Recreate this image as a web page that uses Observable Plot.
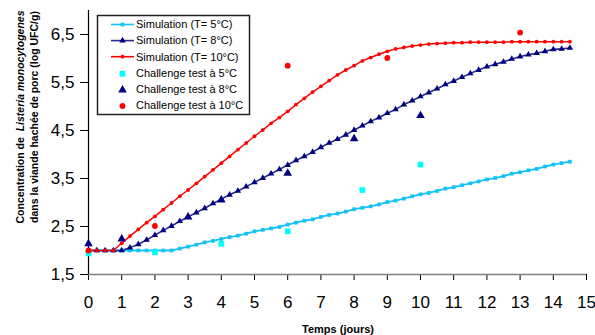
<!DOCTYPE html>
<html>
<head>
<meta charset="utf-8">
<script src="https://cdn.jsdelivr.net/npm/d3@7"></script>
<script src="https://cdn.jsdelivr.net/npm/@observablehq/plot@0.6"></script>
<style>
  html, body { margin: 0; padding: 0; background: #fff; }
  #chart { width: 595px; height: 335px; }
</style>
</head>
<body>
<div id="chart"></div>
<script>
// ---- data ----
const times = [0, 0.25, 0.5, 0.75, 1, 1.25, 1.5, 1.75, 2, 2.25, 2.5, 2.75, 3, 3.25, 3.5, 3.75,
  4, 4.25, 4.5, 4.75, 5, 5.25, 5.5, 5.75, 6, 6.25, 6.5, 6.75, 7, 7.25, 7.5, 7.75,
  8, 8.25, 8.5, 8.75, 9, 9.25, 9.5, 9.75, 10, 10.25, 10.5, 10.75, 11, 11.25, 11.5, 11.75,
  12, 12.25, 12.5, 12.75, 13, 13.25, 13.5, 13.75, 14, 14.25, 14.5];

const sim5 = [2.00, 2.00, 2.00, 2.00, 2.00, 2.00, 2.00, 2.00, 2.00, 2.00, 2.00, 2.04, 2.08, 2.12, 2.17, 2.20,
  2.24, 2.28, 2.31, 2.35, 2.40, 2.43, 2.46, 2.49, 2.54, 2.58, 2.62, 2.65, 2.70, 2.74, 2.77, 2.81,
  2.86, 2.89, 2.92, 2.96, 3.01, 3.04, 3.08, 3.13, 3.17, 3.20, 3.24, 3.29, 3.32, 3.36, 3.40, 3.44,
  3.48, 3.51, 3.55, 3.60, 3.63, 3.67, 3.70, 3.75, 3.79, 3.82, 3.85];

const sim8 = [2.00, 2.00, 2.00, 2.00, 2.00, 2.06, 2.13, 2.22, 2.32, 2.42, 2.51, 2.61, 2.70, 2.79, 2.88, 2.98,
  3.07, 3.16, 3.24, 3.33, 3.42, 3.51, 3.60, 3.69, 3.78, 3.88, 3.96, 4.05, 4.15, 4.24, 4.32, 4.41,
  4.51, 4.60, 4.69, 4.77, 4.86, 4.94, 5.04, 5.12, 5.21, 5.29, 5.37, 5.46, 5.53, 5.61, 5.69, 5.76,
  5.83, 5.88, 5.93, 5.99, 6.04, 6.08, 6.11, 6.15, 6.19, 6.20, 6.22];

const sim10 = [2.00, 2.00, 2.00, 2.00, 2.15, 2.30, 2.44, 2.58, 2.71, 2.85, 2.99, 3.13, 3.26, 3.40, 3.54, 3.68,
  3.82, 3.96, 4.10, 4.24, 4.38, 4.51, 4.65, 4.77, 4.90, 5.04, 5.17, 5.30, 5.42, 5.54, 5.66, 5.76,
  5.85, 5.95, 6.02, 6.09, 6.15, 6.20, 6.23, 6.26, 6.28, 6.30, 6.31, 6.32, 6.33, 6.33, 6.34, 6.34,
  6.34, 6.34, 6.34, 6.35, 6.35, 6.35, 6.35, 6.35, 6.35, 6.35, 6.35];

const ch5Days = [0, 2, 4, 6, 8.25, 10];
const ch5Vals = [1.94, 1.96, 2.14, 2.40, 3.26, 3.79];
const ch8Days = [0, 1, 3, 4, 6, 8, 10];
const ch8Vals = [2.14, 2.24, 2.70, 3.05, 3.61, 4.33, 4.81];
const ch10Days = [0, 2, 6, 9, 13];
const ch10Vals = [2.00, 2.51, 5.85, 6.01, 6.54];

const xTicks = [0, 1, 2, 3, 4, 5, 6, 7, 8, 9, 10, 11, 12, 13, 14, 15];
const yTicks = [1.5, 2.5, 3.5, 4.5, 5.5, 6.5];

const legendLabels = ["Simulation (T= 5°C)", "Simulation (T= 8°C)", "Simulation (T= 10°C)",
  "Challenge test à 5°C", "Challenge test à 8°C", "Challenge test à 10°C"];
const xTitle = "Temps (jours)";
const yTitle1a = "Concentration de ";
const yTitle1b = "Listeria monocytogenes";
const yTitle2 = "dans la viande hachée de porc (log UFC/g)";

// ---- styles ----
const C5 = "#14c2f7", C5pt = "#00ffff";
const C8 = "#000080", C8line = "#2a2a8c";
const C10 = "#ff0000";

const toRows = (vals) => times.map((t, i) => ({t, v: vals[i]}));
const toPts = (ds, vs) => ds.map((t, i) => ({t, v: vs[i]}));
const s5 = toRows(sim5), s8 = toRows(sim8), s10 = toRows(sim10);
const p5 = toPts(ch5Days, ch5Vals), p8 = toPts(ch8Days, ch8Vals), p10 = toPts(ch10Days, ch10Vals);

const fmt = v => v.toFixed(1).replace(".", ",");

const chart = Plot.plot({
  width: 595,
  height: 335,
  marginLeft: 88,
  marginRight: 9,
  marginTop: 10,
  marginBottom: 61,
  style: {fontFamily: "'Liberation Sans', Arial, sans-serif", background: "#fff", color: "#000"},
  x: {domain: [0, 15]},
  y: {domain: [1.5, 7]},
  marks: [
    Plot.axisX({ticks: xTicks, tickSize: 6, tickPadding: 15, fontSize: 17, tickFormat: d => String(d), label: null, stroke: "#000"}),
    Plot.axisY({ticks: yTicks, tickSize: 8, tickPadding: 6, fontSize: 17, tickFormat: fmt, label: null, stroke: "#000"}),
    Plot.ruleY([1.5], {stroke: "#7f7f7f", strokeWidth: 1.5}),
    Plot.ruleX([0], {stroke: "#000", strokeWidth: 1.2}),
    Plot.line(s5, {x: "t", y: "v", stroke: C5, strokeWidth: 1.8}),
    Plot.line(s8, {x: "t", y: "v", stroke: C8line, strokeWidth: 1.6}),
    Plot.line(s10, {x: "t", y: "v", stroke: C10, strokeWidth: 1.5}),
    Plot.dot(s5, {x: "t", y: "v", symbol: "square", r: 2.1, fill: C5}),
    Plot.dot(s8, {x: "t", y: "v", symbol: "triangle", r: 2.4, fill: C8}),
    Plot.dot(s10, {x: "t", y: "v", symbol: "circle", r: 1.9, fill: C10}),
    Plot.dot(p5, {x: "t", y: "v", symbol: "square", r: 3.2, fill: C5pt}),
    Plot.dot(p8, {x: "t", y: "v", symbol: "triangle", r: 3.2, fill: C8}),
    Plot.dot(p10, {x: "t", y: "v", symbol: "circle", r: 2.9, fill: C10})
  ]
});
document.getElementById("chart").appendChild(chart);

// ---- titles and legend ----
const svg = d3.select(chart);
const ff = "'Liberation Sans', Arial, sans-serif";

svg.append("text")
  .attr("x", 338).attr("y", 333)
  .attr("text-anchor", "middle")
  .attr("font-family", ff).attr("font-size", 11).attr("font-weight", "bold")
  .attr("fill", "#000")
  .text(xTitle);

const yt1 = svg.append("text")
  .attr("transform", "translate(24,117) rotate(-90)")
  .attr("text-anchor", "middle")
  .attr("font-family", ff).attr("font-size", 10.5).attr("font-weight", "bold")
  .attr("fill", "#000")
  .attr("xml:space", "preserve");
yt1.append("tspan").text(yTitle1a + " ");
yt1.append("tspan").attr("font-style", "italic").text(yTitle1b);

svg.append("text")
  .attr("transform", "translate(38,117) rotate(-90)")
  .attr("text-anchor", "middle")
  .attr("font-family", ff).attr("font-size", 10.5).attr("font-weight", "bold")
  .attr("fill", "#000")
  .text(yTitle2);

const lg = svg.append("g");
lg.append("rect")
  .attr("x", 97.5).attr("y", 15.5).attr("width", 152).attr("height", 99)
  .attr("fill", "#fff").attr("stroke", "#222").attr("stroke-width", 1.5);

const entries = [
  {line: C5, fill: C5, sym: d3.symbolSquare, r: 2.1},
  {line: C8line, fill: C8, sym: d3.symbolTriangle, r: 2.4},
  {line: C10, fill: C10, sym: d3.symbolCircle, r: 1.9},
  {line: null, fill: C5pt, sym: d3.symbolSquare, r: 3.2},
  {line: null, fill: C8, sym: d3.symbolTriangle, r: 3.2},
  {line: null, fill: C10, sym: d3.symbolCircle, r: 2.9}
];
entries.forEach((e, i) => {
  const cy = 24.5 + i * 16.1;
  if (e.line) {
    lg.append("line").attr("x1", 111).attr("x2", 134).attr("y1", cy).attr("y2", cy)
      .attr("stroke", e.line).attr("stroke-width", 1.6);
  }
  lg.append("path")
    .attr("d", d3.symbol(e.sym, Math.PI * e.r * e.r)())
    .attr("transform", `translate(122.5,${cy + (e.line ? 0 : 1)})`)
    .attr("fill", e.fill);
  lg.append("text")
    .attr("x", 136).attr("y", cy).attr("dy", "0.35em")
    .attr("text-anchor", "start")
    .attr("font-family", ff).attr("font-size", 11)
    .attr("fill", "#000")
    .text(legendLabels[i]);
});
</script>
</body>
</html>
